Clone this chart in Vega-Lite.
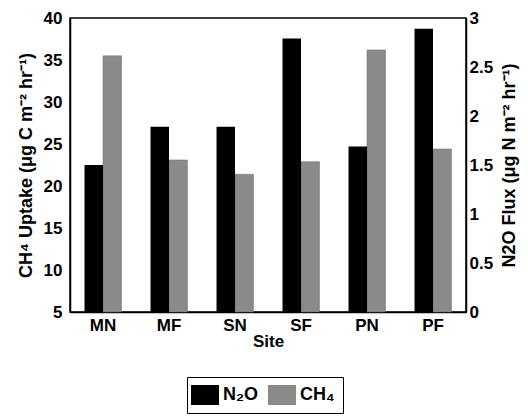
{
  "$schema": "https://vega.github.io/schema/vega-lite/v6.json",
  "width": 396,
  "height": 294,
  "autosize": "none",
  "padding": {"left": 70, "top": 18, "right": 62, "bottom": 108},
  "background": "white",
  "config": {
    "view": {"stroke": "black", "strokeWidth": 1.5},
    "font": "Liberation Sans",
    "axis": {"grid": false, "labelFont": "Liberation Sans", "labelFontWeight": "bold", "labelFontSize": 17, "labelColor": "black", "titleFont": "Liberation Sans", "titleFontWeight": "bold", "titleFontSize": 18, "titleColor": "black", "domainColor": "black", "domainWidth": 1.5, "ticks": false}
  },
  "data": {
    "values": [
      {"site": "MN", "N2O": 1.50, "CH4": 35.5},
      {"site": "MF", "N2O": 1.89, "CH4": 23.1},
      {"site": "SN", "N2O": 1.89, "CH4": 21.4},
      {"site": "SF", "N2O": 2.79, "CH4": 22.9},
      {"site": "PN", "N2O": 1.69, "CH4": 36.2},
      {"site": "PF", "N2O": 2.89, "CH4": 24.4}
    ]
  },
  "transform": [
    {"fold": ["N2O", "CH4"], "as": ["key", "value"]},
    {"calculate": "datum.key == 'N2O' ? 'N₂O' : 'CH₄'", "as": "series"}
  ],
  "encoding": {
    "x": {"field": "site", "type": "nominal", "sort": ["MN", "MF", "SN", "SF", "PN", "PF"],
      "scale": {"paddingInner": 0.44, "paddingOuter": 0.22},
      "axis": {"title": "Site", "labelAngle": 0, "labelPadding": 5, "titlePadding": 0, "labelFontSize": 17, "titleFontSize": 17}},
    "xOffset": {"field": "series", "type": "nominal", "scale": {"domain": ["N₂O", "CH₄"]}},
    "color": {"field": "series", "type": "nominal",
      "scale": {"domain": ["N₂O", "CH₄"], "range": ["black", "#8a8a8a"]},
      "legend": {"title": null, "orient": "none", "direction": "horizontal", "legendX": 117, "legendY": 359,
        "strokeColor": "black", "padding": 8, "labelFontSize": 18, "labelFontWeight": "bold", "labelFont": "Liberation Sans", "labelColor": "black",
        "symbolType": "M-1.4,-1h2.8v2h-2.8z", "symbolSize": 400, "symbolOpacity": 1, "symbolStrokeWidth": 0, "columnPadding": 10, "labelOffset": 8}}
  },
  "layer": [
    {
      "transform": [{"filter": "datum.key == 'CH4'"}],
      "mark": {"type": "bar", "opacity": 1, "stroke": "#6a6a6a", "strokeWidth": 0.5},
      "encoding": {
        "y": {"field": "value", "type": "quantitative",
          "scale": {"domain": [5, 40], "nice": false, "zero": false},
          "axis": {"orient": "left", "values": [5, 10, 15, 20, 25, 30, 35, 40], "labelPadding": 8, "titlePadding": 8,
            "title": "CH⁴ Uptake (μg C m⁻² hr⁻¹)"}},
        "y2": {"datum": 5}
      }
    },
    {
      "transform": [{"filter": "datum.key == 'N2O'"}],
      "mark": {"type": "bar", "opacity": 1},
      "encoding": {
        "y": {"field": "value", "type": "quantitative",
          "scale": {"domain": [0, 3], "nice": false, "zero": true},
          "axis": {"orient": "right", "values": [0, 0.5, 1, 1.5, 2, 2.5, 3], "format": "~g", "labelPadding": 3, "titlePadding": 8, "titleAngle": 270, "titleBaseline": "top",
            "title": "N2O Flux  (μg N m⁻² hr⁻¹)"}}
      }
    }
  ],
  "resolve": {"scale": {"y": "independent"}}
}
